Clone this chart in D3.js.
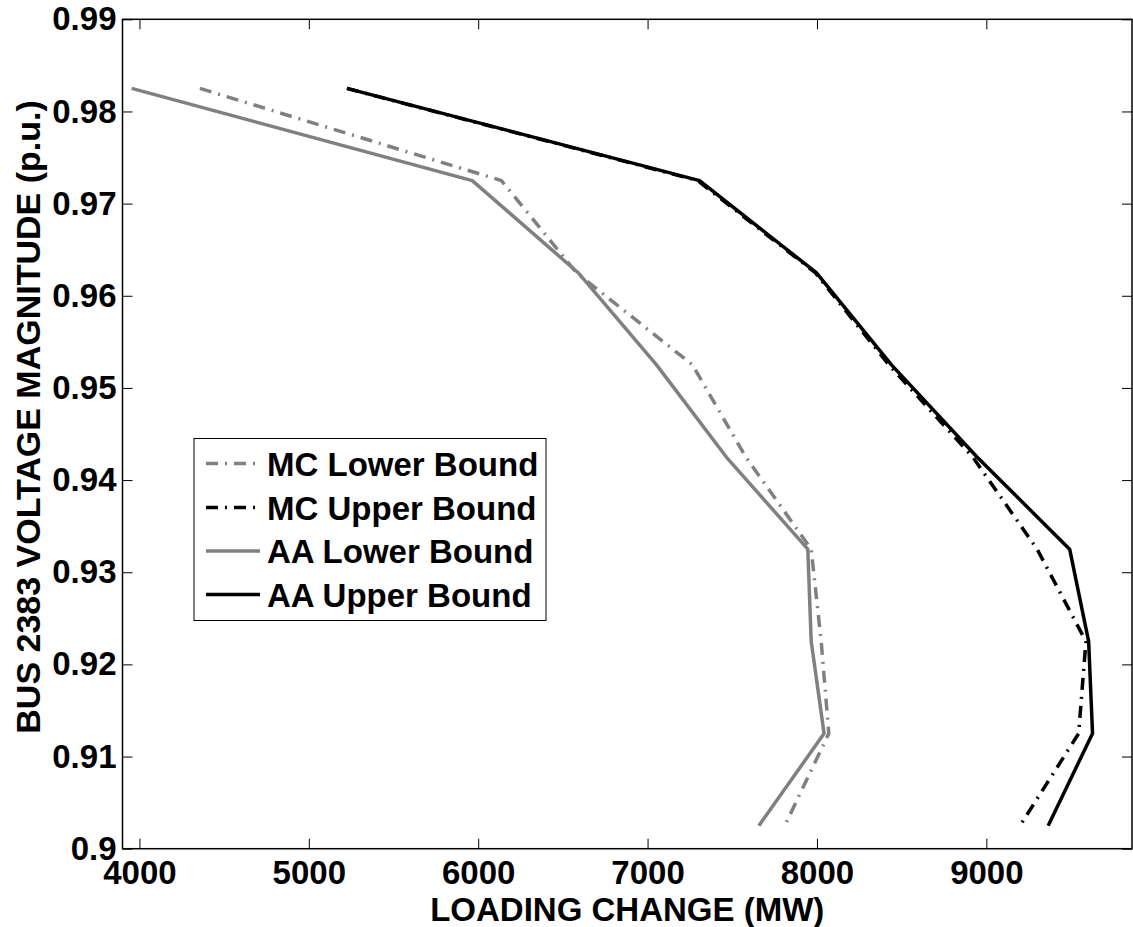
<!DOCTYPE html>
<html>
<head>
<meta charset="utf-8">
<script src="https://cdn.jsdelivr.net/npm/d3@7"></script>
<style>
  html, body { margin: 0; padding: 0; background: #fff; }
  text { font-family: "Liberation Sans", Arial, Helvetica, sans-serif; font-weight: bold; }
</style>
</head>
<body>
<svg id="chart" width="1133" height="927"></svg>
<script>
// ---- data ----
const voltage = [0.9825, 0.9725, 0.9625, 0.9525, 0.9425, 0.9325, 0.9225, 0.9125, 0.9025];
const mcLower = [4357, 6137, 6580, 7265, 7580, 7966, 8025, 8070, 7810];
const mcUpper = [5225, 7295, 7990, 8425, 8920, 9300, 9588, 9545, 9199];
const aaLower = [3954, 5965, 6590, 7053, 7465, 7946, 7966, 8042, 7657];
const aaUpper = [5225, 7307, 7996, 8440, 8945, 9492, 9604, 9627, 9365];
const seriesNames = ["MC Lower Bound", "MC Upper Bound", "AA Lower Bound", "AA Upper Bound"];
const xTicks = [4000, 5000, 6000, 7000, 8000, 9000];
const yTicks = [0.9, 0.91, 0.92, 0.93, 0.94, 0.95, 0.96, 0.97, 0.98, 0.99];
const xLabel = "LOADING CHANGE (MW)";
const yLabel = "BUS 2383 VOLTAGE MAGNITUDE (p.u.)";

const seriesData = [mcLower, mcUpper, aaLower, aaUpper];
const styles = [
  { color: "#808080", dash: "12,7,2,7" },
  { color: "#000000", dash: "12,7,2,7" },
  { color: "#808080", dash: null },
  { color: "#000000", dash: null }
];

const svg = d3.select("#chart");
const L = 122.5, R = 1132, T = 19.3, B = 848.7;
const fs = 33;

const x = d3.scaleLinear().domain([3900, 9860]).range([L, R]);
const y = d3.scaleLinear().domain([0.9, 0.99]).range([B, T]);

// background
svg.append("rect").attr("width", 1133).attr("height", 927).attr("fill", "#fff");

// lines
const line = d3.line().x(d => x(d[0])).y(d => y(d[1]));
seriesData.forEach((s, i) => {
  const pts = s.map((v, j) => [v, voltage[j]]);
  svg.append("path")
    .attr("d", line(pts))
    .attr("fill", "none")
    .attr("stroke", styles[i].color)
    .attr("stroke-width", 3.5)
    .attr("stroke-linejoin", "round")
    .attr("stroke-dasharray", styles[i].dash);
});

// axes
const fmtY = d => String(+d.toFixed(2));
const axB = svg.append("g").attr("transform", `translate(0,${B})`)
  .call(d3.axisBottom(x).tickValues(xTicks).tickSize(-10).tickSizeOuter(0).tickPadding(12).tickFormat(d3.format("d")));
const axT = svg.append("g").attr("transform", `translate(0,${T})`)
  .call(d3.axisTop(x).tickValues(xTicks).tickSize(-10).tickSizeOuter(0).tickFormat(""));
const axLf = svg.append("g").attr("transform", `translate(${L},0)`)
  .call(d3.axisLeft(y).tickValues(yTicks).tickSize(-10).tickSizeOuter(0).tickPadding(6).tickFormat(fmtY));
const axRt = svg.append("g").attr("transform", `translate(${R},0)`)
  .call(d3.axisRight(y).tickValues(yTicks).tickSize(-10).tickSizeOuter(0).tickFormat(""));

[axB, axT, axLf, axRt].forEach(g => {
  g.select(".domain").remove();
  g.selectAll(".tick line").attr("stroke", "#000").attr("stroke-width", 1);
  g.selectAll(".tick text").attr("fill", "#000").style("font-size", fs + "px")
    .style("font-family", '"Liberation Sans", Arial, Helvetica, sans-serif').style("font-weight", "bold");
});

// box
svg.append("rect").attr("x", L).attr("y", T).attr("width", R - L).attr("height", B - T)
  .attr("fill", "none").attr("stroke", "#000").attr("stroke-width", 1.5);

// axis titles
svg.append("text").attr("x", (L + R) / 2).attr("y", 921).attr("text-anchor", "middle")
  .style("font-size", fs + "px").attr("fill", "#000").text(xLabel);
svg.append("text").attr("transform", `translate(40,417) rotate(-90)`).attr("text-anchor", "middle")
  .style("font-size", "34px").attr("fill", "#000").text(yLabel);

// legend
const lg = svg.append("g");
lg.append("rect").attr("x", 194).attr("y", 438.5).attr("width", 352).attr("height", 182)
  .attr("fill", "#fff").attr("stroke", "#000").attr("stroke-width", 1);
const rowY = [463.5, 507.5, 551, 594.5];
seriesNames.forEach((name, i) => {
  lg.append("line").attr("x1", 206).attr("x2", 260).attr("y1", rowY[i]).attr("y2", rowY[i])
    .attr("stroke", styles[i].color).attr("stroke-width", 3.5)
    .attr("stroke-dasharray", styles[i].dash);
  lg.append("text").attr("x", 267).attr("y", rowY[i] + 12).style("font-size", fs + "px")
    .attr("fill", "#000").text(name);
});
</script>
</body>
</html>
